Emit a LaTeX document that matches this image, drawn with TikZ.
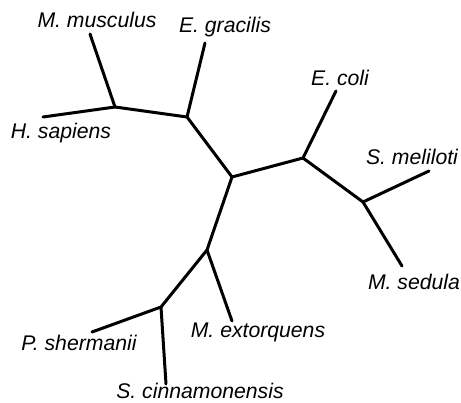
\documentclass[tikz,border=0pt]{standalone}
\usepackage{fontspec}
\setmainfont{Liberation Sans}
\usetikzlibrary{positioning}

\tikzset{
    branch/.style={line width=3pt, line cap=round, line join=round},
    taxon/.style={font=\fontsize{21.2}{25}\selectfont\itshape, inner sep=0pt}
}

\begin{document}
\begin{tikzpicture}[x=1pt, y=-1pt]
    \useasboundingbox (0, 0) rectangle (461, 403);

    % inner nodes
    \coordinate (root) at (232, 177);
    \coordinate (euk) at (187, 117);
    \coordinate (mam) at (115, 107);
    \coordinate (prot) at (303, 158);
    \coordinate (rhizo) at (363, 202);
    \coordinate (act) at (207, 250);
    \coordinate (actino) at (161, 307);

    % leaves
    \coordinate (mmus) at (90, 34);
    \coordinate (hsap) at (43, 117);
    \coordinate (egra) at (205, 43);
    \coordinate (ecol) at (336, 91);
    \coordinate (smel) at (429, 171);
    \coordinate (msed) at (402, 266);
    \coordinate (mext) at (232, 321);
    \coordinate (pshe) at (92, 332);
    \coordinate (scin) at (166, 384);

    \draw[branch] (root) -- (euk) -- (mam) -- (mmus);
    \draw[branch] (mam) -- (hsap);
    \draw[branch] (euk) -- (egra);
    \draw[branch] (root) -- (prot) -- (ecol);
    \draw[branch] (prot) -- (rhizo) -- (smel);
    \draw[branch] (rhizo) -- (msed);
    \draw[branch] (root) -- (act) -- (mext);
    \draw[branch] (act) -- (actino) -- (pshe);
    \draw[branch] (actino) -- (scin);

    % labels
    \node[taxon] (lmmus) at (97, 20) {M. musculus};
    \node[taxon] (lhsap) at (61, 133) {H. sapiens};
    \node[taxon] (legra) at (225, 27) {E. gracilis};
    \node[taxon] (lecol) at (340, 78) {E. coli};
    \node[taxon] (lsmel) at (412, 157) {S. meliloti};
    \node[taxon] (lmsed) at (414, 282) {M. sedula};
    \node[taxon] (lmext) at (258, 332) {M. extorquens};
    \node[taxon] (lpshe) at (79, 343) {P. shermanii};
    \node[taxon] (lscin) at (200, 391) {S. cinnamonensis};
\end{tikzpicture}
\end{document}
